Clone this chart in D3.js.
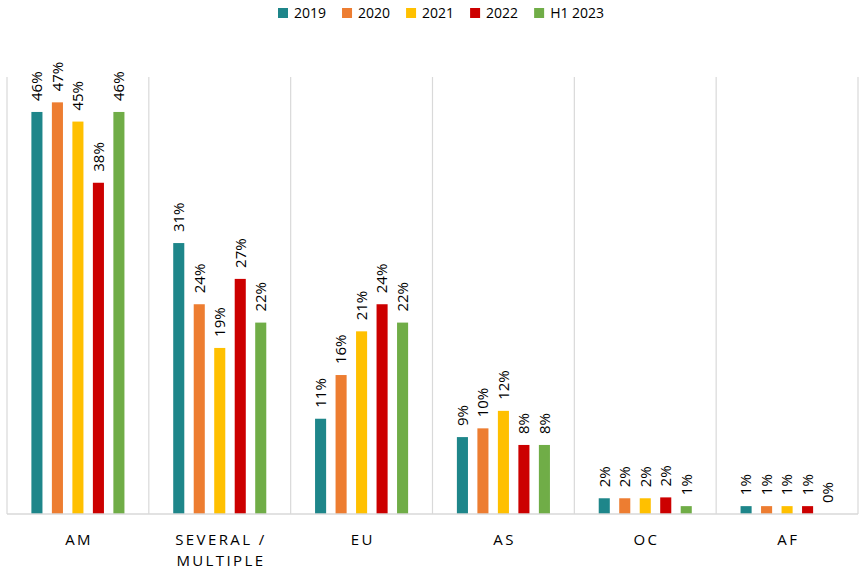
<!DOCTYPE html>
<html>
<head>
<meta charset="utf-8">
<script src="https://cdn.jsdelivr.net/npm/d3@7"></script>
<style>
  body { margin: 0; background: #fff; }
  text { font-family: "Open Sans", Lato, sans-serif; fill: #000; }
</style>
</head>
<body>
<div class="chart"></div>
<script>
// categories and series
var regions = ["AM", "SEVERAL / MULTIPLE", "EU", "AS", "OC", "AF"];
var years = ["2019", "2020", "2021", "2022", "H1 2023"];
var colors = ["#1E868A", "#ED7D31", "#FFC000", "#CC0000", "#70AD47"];

// share per region, one array per year (percent)
var v2019 = [46.0, 31.0, 10.9, 8.8, 1.8, 0.9];
var v2020 = [47.1, 24.0, 15.9, 9.8, 1.8, 0.9];
var v2021 = [44.9, 19.0, 20.9, 11.8, 1.8, 0.9];
var v2022 = [37.9, 26.9, 24.0, 7.9, 1.9, 0.9];
var vH12023 = [46.0, 21.9, 21.9, 7.9, 0.9, 0.0];
var seriesValues = [v2019, v2020, v2021, v2022, vH12023];

var svgWidth = 859, svgHeight = 569;
var margin = { top: 77, right: 1, bottom: 55, left: 7 };
var chartWidth = svgWidth - margin.left - margin.right;
var chartHeight = svgHeight - margin.top - margin.bottom;

var svg = d3.select(".chart").append("svg")
  .attr("width", svgWidth)
  .attr("height", svgHeight);

var chartGroup = svg.append("g")
  .attr("transform", `translate(${margin.left}, ${margin.top})`);

// scales
var x0 = d3.scaleBand().domain(regions).range([0, chartWidth]).padding(0);
var x1 = d3.scaleBand().domain(years).range([0, x0.bandwidth()])
  .paddingInner(0.46).paddingOuter(1.19);
var yScale = d3.scaleLinear().domain([0, 50]).range([chartHeight, 0]);

// category separators
var seps = regions.map(r => x0(r)).concat([chartWidth]);
chartGroup.selectAll(".sep")
  .data(seps)
  .enter()
  .append("line")
  .attr("x1", d => d).attr("x2", d => d)
  .attr("y1", 0).attr("y2", chartHeight)
  .attr("stroke", "#D9D9D9")
  .attr("stroke-width", 1.2);

// bars
var rows = [];
regions.forEach(function (r, i) {
  years.forEach(function (y, j) {
    rows.push({ region: r, year: y, color: colors[j], value: seriesValues[j][i] });
  });
});

chartGroup.selectAll("rect")
  .data(rows)
  .enter()
  .append("rect")
  .attr("x", d => x0(d.region) + x1(d.year))
  .attr("y", d => yScale(d.value))
  .attr("width", x1.bandwidth())
  .attr("height", d => chartHeight - yScale(d.value))
  .attr("fill", d => d.color);

// baseline
chartGroup.append("line")
  .attr("x1", 0).attr("x2", chartWidth)
  .attr("y1", chartHeight).attr("y2", chartHeight)
  .attr("stroke", "#D9D9D9")
  .attr("stroke-width", 1.5);

// value labels, rotated
chartGroup.selectAll(".val")
  .data(rows)
  .enter()
  .append("text")
  .attr("class", "val")
  .attr("transform", d => `translate(${x0(d.region) + x1(d.year) + x1.bandwidth() / 2}, ${yScale(d.value) - 11}) rotate(-90)`)
  .attr("dy", "0.36em")
  .style("font-size", "15px")
  .text(d => Math.round(d.value) + "%");

// category labels
var catLabels = chartGroup.selectAll(".cat")
  .data(regions)
  .enter()
  .append("text")
  .attr("class", "cat")
  .attr("text-anchor", "middle")
  .style("font-size", "15px")
  .style("letter-spacing", "2.4px");

catLabels.each(function (d) {
  var parts = d === "SEVERAL / MULTIPLE" ? ["SEVERAL /", "MULTIPLE"] : [d];
  var t = d3.select(this);
  parts.forEach(function (p, k) {
    t.append("tspan")
      .attr("x", x0(d) + x0.bandwidth() / 2 + 1.2)
      .attr("y", chartHeight + 31 + k * 21)
      .text(p);
  });
});

// legend
var legend = svg.append("g").attr("transform", "translate(278, 0)");
var lx = 0;
years.forEach(function (y, j) {
  var item = legend.append("g").attr("transform", `translate(${lx}, 0)`);
  item.append("rect")
    .attr("x", 0).attr("y", 8)
    .attr("width", 10).attr("height", 10)
    .attr("fill", colors[j]);
  var t = item.append("text")
    .attr("x", 16).attr("y", 18)
    .style("font-size", "14px")
    .text(y);
  lx += 16 + t.node().getComputedTextLength() + 16;
});
</script>
</body>
</html>
